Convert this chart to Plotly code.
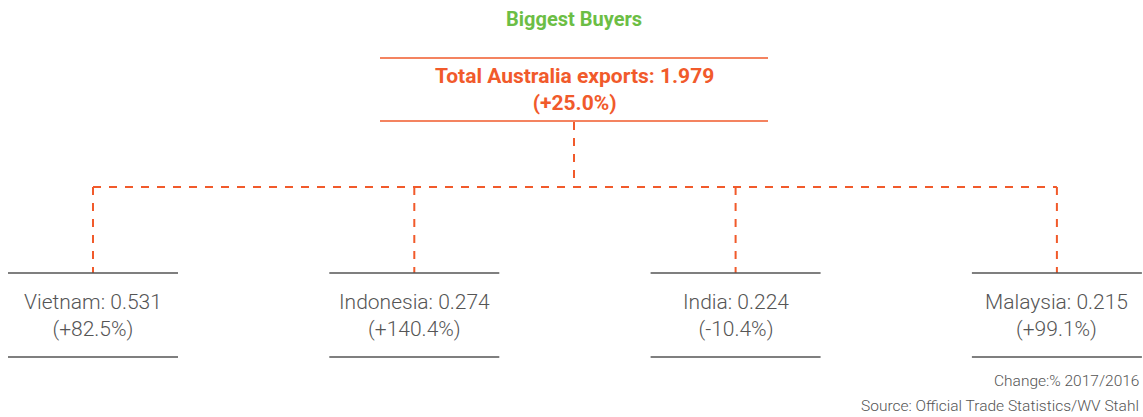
import plotly.graph_objects as go

# ---- data ----
title_text = "Biggest Buyers"
total_label = "Total Australia exports"
total_value = 1.979
total_change = 25.0
countries = ["Vietnam", "Indonesia", "India", "Malaysia"]
values = [0.531, 0.274, 0.224, 0.215]
changes = [82.5, 140.4, -10.4, 99.1]
footnotes = ["Change:% 2017/2016", "Source: Official Trade Statistics/WV Stahl"]

W, H = 1143, 417
ORANGE = "#F15A2B"
GREEN = "#6CBE45"
GRAY = "#555555"
FONT = "Roboto, Arial, sans-serif"

def pct(c):
    return f"({'+' if c >= 0 else ''}{c:.1f}%)"

fig = go.Figure()
shapes = []
ann = []

# title
ann.append(dict(x=574, y=19, text=f"<b>{title_text}</b>", showarrow=False,
                font=dict(family=FONT, size=20, color=GREEN)))

# top box
top_cx = 574
shapes.append(dict(type="line", x0=380, x1=768, y0=58, y1=58, line=dict(color=ORANGE, width=1.5)))
shapes.append(dict(type="line", x0=380, x1=768, y0=121, y1=121, line=dict(color=ORANGE, width=1.5)))
ann.append(dict(x=top_cx, y=89, text=f"<b>{total_label}: {total_value:.3f}</b><br><b>{pct(total_change)}</b>",
                showarrow=False, font=dict(family=FONT, size=21, color=ORANGE)))

# connectors
DASH = "8px,8px"
centers = [93 + i * 321.3 for i in range(len(countries))]
shapes.append(dict(type="line", x0=top_cx, x1=top_cx, y0=122, y1=187, line=dict(color=ORANGE, width=2, dash=DASH)))
shapes.append(dict(type="line", x0=centers[0], x1=centers[-1], y0=187, y1=187, line=dict(color=ORANGE, width=2, dash=DASH)))

for cx, name, v, c in zip(centers, countries, values, changes):
    shapes.append(dict(type="line", x0=cx, x1=cx, y0=187, y1=273, line=dict(color=ORANGE, width=2, dash=DASH)))
    shapes.append(dict(type="line", x0=cx - 85, x1=cx + 85, y0=273, y1=273, line=dict(color=GRAY, width=1.3)))
    shapes.append(dict(type="line", x0=cx - 85, x1=cx + 85, y0=357, y1=357, line=dict(color=GRAY, width=1.3)))
    ann.append(dict(x=cx, y=315, text=f"{name}: {v:.3f}<br>{pct(c)}", showarrow=False,
                    font=dict(family=FONT, size=21, color=GRAY, weight=300)))

for i, t in enumerate(footnotes):
    ann.append(dict(x=1141, y=381 + i * 25, text=t, showarrow=False, xanchor="right",
                    font=dict(family=FONT, size=15.5, color=GRAY, weight=300)))

fig.update_layout(
    width=W, height=H, margin=dict(l=0, r=0, t=0, b=0),
    paper_bgcolor="white", plot_bgcolor="white",
    xaxis=dict(range=[0, W], visible=False, fixedrange=True),
    yaxis=dict(range=[H, 0], visible=False, fixedrange=True),
    shapes=shapes, annotations=ann, showlegend=False,
)
fig.write_html("out.html", config={"displayModeBar": False})

with open("out.html", "r", encoding="utf-8") as f:
    html = f.read()
html = html.replace("<head>", "<head><style>html,body{margin:0;padding:0;overflow:hidden;}</style>", 1)
with open("out.html", "w", encoding="utf-8") as f:
    f.write(html)
